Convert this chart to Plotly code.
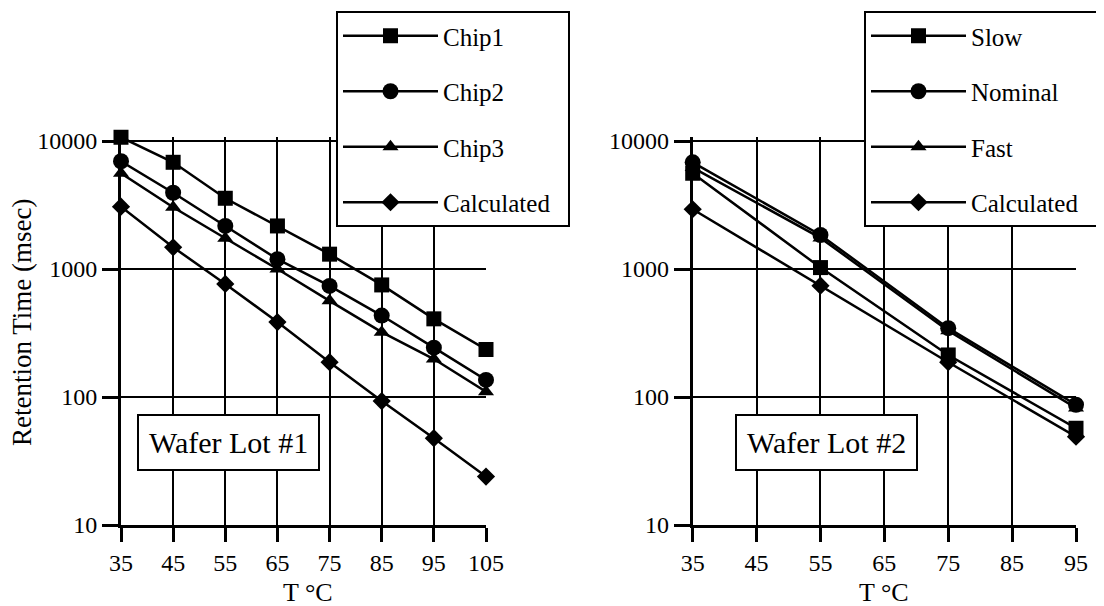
import math
import plotly.graph_objects as go

# ---- data ----
temps_lot1 = [35, 45, 55, 65, 75, 85, 95, 105]
chip1 = [10700, 6820, 3570, 2170, 1306, 751, 408, 235]
chip2 = [6950, 3945, 2170, 1194, 738, 433, 243, 136]
chip3 = [5600, 3035, 1738, 1000, 564, 321, 198, 110]
calc1 = [3070, 1479, 765, 385, 187, 93, 47.7, 23.9]

temps_lot2 = [35, 55, 75, 95]
slow = [5600, 1026, 213, 57]
nominal = [6820, 1845, 345, 87]
fast = [6200, 1750, 330, 82]
calc2 = [2930, 741, 187, 49]

names_lot1 = ["Chip1", "Chip2", "Chip3", "Calculated"]
names_lot2 = ["Slow", "Nominal", "Fast", "Calculated"]

x_ticks_lot1 = [35, 45, 55, 65, 75, 85, 95, 105]
x_ticks_lot2 = [35, 45, 55, 65, 75, 85, 95]
y_ticks = [10, 100, 1000, 10000]
y_ticktext = ["10", "100", "1000", "10000"]

FONT = "Liberation Serif"
PAD = "\u00a0\u00a0"  # invisible padding to widen the legend box

fig = go.Figure()

symbols = [("square", 15), ("circle", 16), ("triangle-up", 14), ("diamond", 14)]

for i, (vals, (sym, sz)) in enumerate(zip([chip1, chip2, chip3, calc1], symbols)):
    name = names_lot1[i] + (PAD if names_lot1[i] == "Calculated" else "")
    fig.add_trace(go.Scatter(x=temps_lot1, y=vals, name=name, mode="lines+markers",
                             line=dict(color="black", width=2.5),
                             marker=dict(symbol=sym, size=sz, color="black"),
                             xaxis="x", yaxis="y", legend="legend",
                             legendgroup="a%d" % i, cliponaxis=False))
for i, (vals, (sym, sz)) in enumerate(zip([slow, nominal, fast, calc2], symbols)):
    name = names_lot2[i] + (PAD if names_lot2[i] == "Calculated" else "")
    fig.add_trace(go.Scatter(x=temps_lot2, y=vals, name=name, mode="lines+markers",
                             line=dict(color="black", width=2.5),
                             marker=dict(symbol=sym, size=sz, color="black"),
                             xaxis="x2", yaxis="y2", legend="legend2",
                             legendgroup="b%d" % i, cliponaxis=False))

# page has an 8px body margin
OFF = 8
W, H = 1104 - OFF, 606 - OFF
ytop = math.log10(max(chip1)) + 0.002
decade_px = 128.1
ml = 121 - OFF
mr = W - (1076 - OFF)
mb = round(H - (525.3 - OFF))
ph = round((ytop - 1) * decade_px)
mt = H - mb - ph
pw = W - ml - mr

def paper_x(screen_px):
    return (screen_px - OFF - ml) / pw

def paper_y(screen_py):
    return (H - mb - (screen_py - OFF)) / ph

axis_common = dict(showline=True, linecolor="black", linewidth=3,
                   showgrid=True, gridcolor="black", gridwidth=2,
                   ticks="outside", tickcolor="black", tickwidth=2.5,
                   tickfont=dict(family=FONT, size=24, color="black"),
                   zeroline=False, mirror=False)

legend_common = dict(bgcolor="white", bordercolor="black", borderwidth=2,
                     font=dict(family=FONT, size=25, color="black"),
                     traceorder="grouped", tracegroupgap=20,
                     itemwidth=95, xanchor="left", yanchor="top",
                     xref="container", yref="container")

fig.update_layout(
    width=W, height=H,
    margin=dict(l=ml, r=mr, t=mt, b=mb, autoexpand=False),
    font=dict(family=FONT, size=25, color="black"),
    paper_bgcolor="white", plot_bgcolor="white",
    showlegend=True,
    xaxis=dict(domain=[0, paper_x(486)], range=[35, 105], tickvals=x_ticks_lot1,
               ticklen=14, anchor="y", **axis_common),
    yaxis=dict(domain=[0, 1], type="log", range=[1, ytop], tickvals=y_ticks, ticktext=y_ticktext,
               ticklen=16, anchor="x", **axis_common),
    xaxis2=dict(domain=[paper_x(692.7), 1], range=[35, 95], tickvals=x_ticks_lot2,
                ticklen=14, anchor="y2", **axis_common),
    yaxis2=dict(domain=[0, 1], type="log", range=[1, ytop], tickvals=y_ticks, ticktext=y_ticktext,
                ticklen=16, anchor="x2", **axis_common),
    legend=dict(x=(336 - OFF) / W, y=1 - (11 - OFF) / H, **legend_common),
    legend2=dict(x=(864 - OFF) / W, y=1 - (11 - OFF) / H, **legend_common),
    annotations=[
        dict(text="Wafer Lot #1", x=55.6, y=1.646, xref="x", yref="y", showarrow=False,
             font=dict(family=FONT, size=30, color="black"), bgcolor="white",
             bordercolor="black", borderwidth=2, borderpad=10),
        dict(text="Wafer Lot #2", x=55.9, y=1.646, xref="x2", yref="y2", showarrow=False,
             font=dict(family=FONT, size=30, color="black"), bgcolor="white",
             bordercolor="black", borderwidth=2, borderpad=10),
        # axis titles
        dict(text="T °C", x=paper_x(307.5), y=paper_y(592), xref="paper", yref="paper",
             xanchor="center", yanchor="middle", showarrow=False, borderpad=0,
             font=dict(family=FONT, size=26, color="black")),
        dict(text="T °C", x=paper_x(884), y=paper_y(592), xref="paper", yref="paper",
             xanchor="center", yanchor="middle", showarrow=False, borderpad=0,
             font=dict(family=FONT, size=26, color="black")),
        dict(text="Retention Time (msec)", x=paper_x(22), y=paper_y(323), xref="paper", yref="paper",
             xanchor="center", yanchor="middle", showarrow=False, textangle=-90, borderpad=0,
             font=dict(family=FONT, size=27, color="black")),
    ],
)

fig.write_html("out.html")
